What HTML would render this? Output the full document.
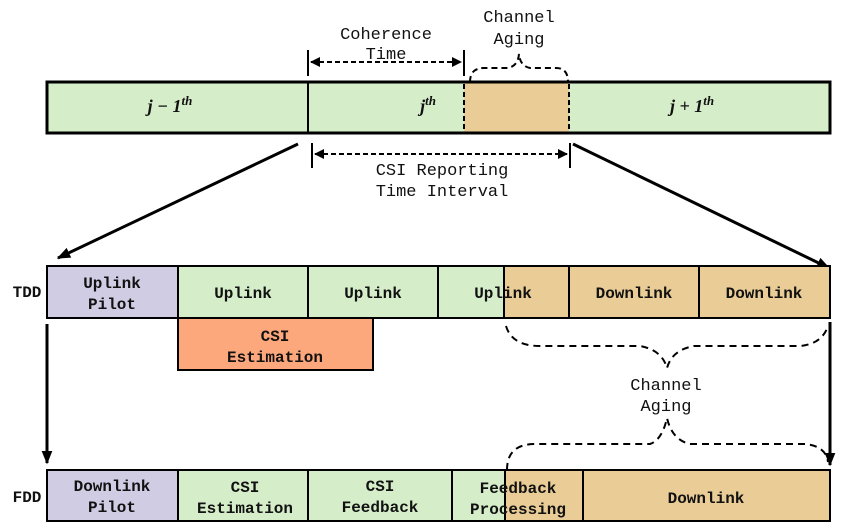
<!DOCTYPE html>
<html><head><meta charset="utf-8"><style>
html,body{margin:0;padding:0;background:#fff;}
svg{display:block;}
text{font-family:"Liberation Mono",monospace;font-size:17px;fill:#111;text-anchor:middle;}
.b{font-weight:bold;font-size:16px;}
.m{font-family:"Liberation Serif",serif;font-style:italic;font-weight:bold;font-size:18px;}
</style></head><body>
<svg width="847" height="530" viewBox="0 0 847 530" xmlns="http://www.w3.org/2000/svg">
<defs>
<marker id="ah" viewBox="0 0 10 10" refX="9" refY="5" markerWidth="5" markerHeight="5" orient="auto-start-reverse"><path d="M0,0 L10,5 L0,10 z" fill="#000"/></marker>
<marker id="as" viewBox="0 0 10 10" refX="9" refY="5" markerWidth="4.5" markerHeight="4.5" orient="auto-start-reverse"><path d="M0,1 L10,5 L0,9 z" fill="#000"/></marker>
</defs>
<!-- top bar -->
<rect x="47" y="82" width="783" height="51" fill="#d5edc9" stroke="#000" stroke-width="3"/>
<rect x="464" y="83.5" width="105" height="48" fill="#e9cc96"/>
<line x1="308" y1="82" x2="308" y2="133" stroke="#000" stroke-width="2"/>
<line x1="464" y1="84" x2="464" y2="132" stroke="#000" stroke-width="2" stroke-dasharray="5,3"/>
<line x1="569" y1="84" x2="569" y2="132" stroke="#000" stroke-width="2" stroke-dasharray="5,3"/>
<text class="m" x="170" y="112">j − 1<tspan dy="-7" font-size="13">th</tspan></text>
<text class="m" x="428" y="112">j<tspan dy="-7" font-size="13">th</tspan></text>
<text class="m" x="692" y="112">j + 1<tspan dy="-7" font-size="13">th</tspan></text>
<!-- coherence -->
<line x1="308" y1="50" x2="308" y2="76" stroke="#000" stroke-width="2"/>
<line x1="464" y1="50" x2="464" y2="76" stroke="#000" stroke-width="2"/>
<line x1="311" y1="62" x2="461" y2="62" stroke="#000" stroke-width="2" stroke-dasharray="5,3" marker-start="url(#ah)" marker-end="url(#ah)"/>
<text x="386" y="39">Coherence</text>
<text x="386" y="59">Time</text>
<text x="519" y="22">Channel</text>
<text x="519" y="44">Aging</text>
<path d="M470,82 Q470,68 484,68 L508,68 Q518,66 519,54 Q520,66 530,68 L556,68 Q568,68 568,82" fill="none" stroke="#000" stroke-width="2" stroke-dasharray="6,4"/>
<!-- CSI reporting -->
<line x1="312" y1="143" x2="312" y2="168" stroke="#000" stroke-width="2"/>
<line x1="570" y1="143" x2="570" y2="168" stroke="#000" stroke-width="2"/>
<line x1="315" y1="154" x2="567" y2="154" stroke="#000" stroke-width="2" stroke-dasharray="5,3" marker-start="url(#ah)" marker-end="url(#ah)"/>
<text x="442" y="175">CSI Reporting</text>
<text x="442" y="196">Time Interval</text>
<!-- zoom lines -->
<line x1="298" y1="144" x2="58" y2="258" stroke="#000" stroke-width="3" marker-end="url(#as)"/>
<line x1="573" y1="144" x2="829" y2="268" stroke="#000" stroke-width="3" marker-end="url(#as)"/>
<!-- TDD -->
<text class="b" x="27" y="297" font-size="14">TDD</text>
<rect x="47" y="266" width="131" height="52" fill="#d0cce4" stroke="#000" stroke-width="2"/>
<rect x="178" y="266" width="130" height="52" fill="#d5edc9" stroke="#000" stroke-width="2"/>
<rect x="308" y="266" width="130" height="52" fill="#d5edc9" stroke="#000" stroke-width="2"/>
<rect x="438" y="266" width="66" height="52" fill="#d5edc9" stroke="#000" stroke-width="2"/>
<rect x="504" y="266" width="65" height="52" fill="#e9cc96" stroke="#000" stroke-width="2"/>
<rect x="569" y="266" width="130" height="52" fill="#e9cc96" stroke="#000" stroke-width="2"/>
<rect x="699" y="266" width="131" height="52" fill="#e9cc96" stroke="#000" stroke-width="2"/>
<line x1="504" y1="268" x2="504" y2="316" stroke="#000" stroke-width="2" stroke-dasharray="5,3"/>
<text class="b" x="112" y="288">Uplink</text>
<text class="b" x="112" y="309">Pilot</text>
<text class="b" x="243" y="298">Uplink</text>
<text class="b" x="373" y="298">Uplink</text>
<text class="b" x="503" y="298">Uplink</text>
<text class="b" x="634" y="298">Downlink</text>
<text class="b" x="764" y="298">Downlink</text>
<rect x="178" y="318" width="195" height="52" fill="#fda87c" stroke="#000" stroke-width="2"/>
<text class="b" x="275" y="341">CSI</text>
<text class="b" x="275" y="362">Estimation</text>
<!-- braces -->
<path d="M506,326 Q512,346 540,346 L640,346 Q662,350 667,368 Q672,350 694,346 L800,346 Q822,344 828,326" fill="none" stroke="#000" stroke-width="2" stroke-dasharray="7,5"/>
<text x="666" y="390">Channel</text>
<text x="666" y="411">Aging</text>
<path d="M507,470 Q507,444 535,444 L650,444 Q662,440 667,418 Q672,440 690,444 L805,444 Q826,446 828,462" fill="none" stroke="#000" stroke-width="2" stroke-dasharray="7,5"/>
<!-- vertical arrows -->
<line x1="47" y1="324" x2="47" y2="463" stroke="#000" stroke-width="3" marker-end="url(#as)"/>
<line x1="830" y1="322" x2="830" y2="465" stroke="#000" stroke-width="3" marker-end="url(#as)"/>
<!-- FDD -->
<text class="b" x="27" y="502" font-size="14">FDD</text>
<rect x="47" y="470" width="131" height="51" fill="#d0cce4" stroke="#000" stroke-width="2"/>
<rect x="178" y="470" width="130" height="51" fill="#d5edc9" stroke="#000" stroke-width="2"/>
<rect x="308" y="470" width="144" height="51" fill="#d5edc9" stroke="#000" stroke-width="2"/>
<rect x="452" y="470" width="53" height="51" fill="#d5edc9" stroke="#000" stroke-width="2"/>
<rect x="505" y="470" width="78" height="51" fill="#e9cc96" stroke="#000" stroke-width="2"/>
<rect x="583" y="470" width="247" height="51" fill="#e9cc96" stroke="#000" stroke-width="2"/>
<line x1="505" y1="472" x2="505" y2="519" stroke="#000" stroke-width="2" stroke-dasharray="5,3"/>
<text class="b" x="112" y="491">Downlink</text>
<text class="b" x="112" y="512">Pilot</text>
<text class="b" x="245" y="492">CSI</text>
<text class="b" x="245" y="513">Estimation</text>
<text class="b" x="380" y="491">CSI</text>
<text class="b" x="380" y="512">Feedback</text>
<text class="b" x="518" y="493">Feedback</text>
<text class="b" x="518" y="514">Processing</text>
<text class="b" x="706" y="503">Downlink</text>
</svg>
</body></html>
